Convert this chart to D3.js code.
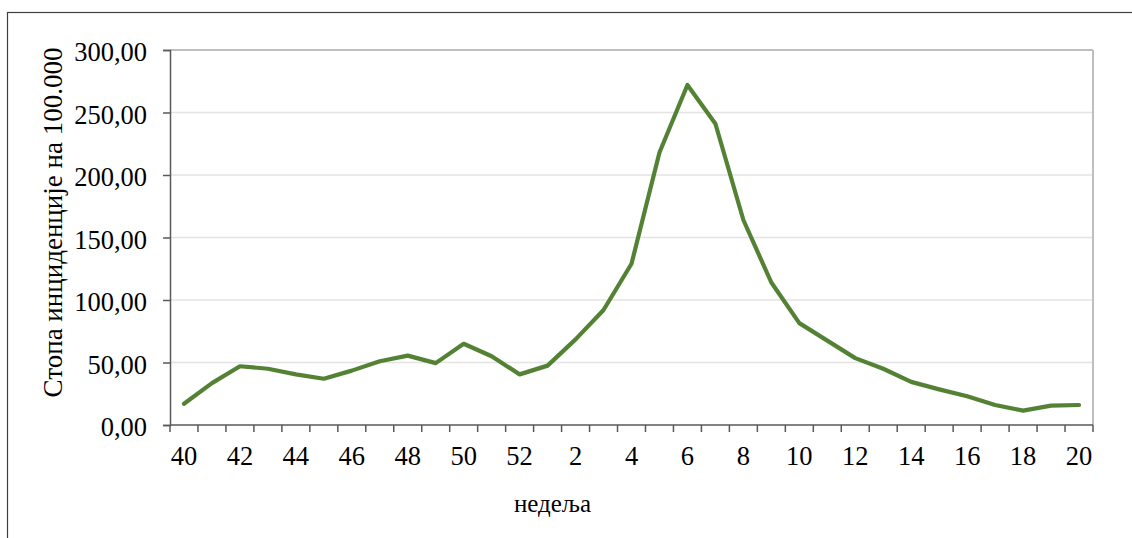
<!DOCTYPE html>
<html>
<head>
<meta charset="utf-8">
<script src="https://cdn.jsdelivr.net/npm/d3@7"></script>
<style>
  body { margin: 0; background: #fff; }
</style>
</head>
<body>
<div id="chart"></div>
<script>
const weeks = [40, 41, 42, 43, 44, 45, 46, 47, 48, 49, 50, 51, 52,
  1, 2, 3, 4, 5, 6, 7, 8, 9, 10, 11, 12, 13, 14, 15, 16, 17, 18, 19, 20]
const rates = [17, 33.5, 47, 45, 40.5, 37, 43.5, 51, 55.5, 49.5, 65, 55, 40.5,
  47.5, 68.5, 92, 129, 218, 272, 241, 164, 114, 81.5, 67.5, 53.5, 45, 34.5, 28.5, 23, 16, 11.5, 15.5, 16]
const yTicks = [0, 50, 100, 150, 200, 250, 300]

const W = 1132, H = 538
const margin = { top: 50, right: 39, bottom: 113, left: 170 }
const width = W - margin.left - margin.right
const height = H - margin.top - margin.bottom
// Times-like face
const serif = '"Liberation Serif", Tinos, "Times New Roman", serif'

const data = weeks.map((w, i) => ({ key: i, week: w, rate: rates[i] }))

const xScale = d3.scaleBand().domain(data.map(d => d.key)).range([0, width])
const yScale = d3.scaleLinear().domain([0, 300]).range([height, 0])

const fmt = v => d3.format('.2f')(v).replace('.', ',')

const root = d3.select('#chart').append('svg')
  .attr('width', W)
  .attr('height', H)
  .attr('font-family', serif)

// outer chart frame (cut by the picture edge)
root.append('rect')
  .attr('x', 7.5).attr('y', 12.5)
  .attr('width', W + 20).attr('height', H + 20)
  .attr('fill', 'none')
  .attr('stroke', '#404040')
  .attr('stroke-width', 1.2)

const svg = root.append('g')
  .attr('transform', `translate(${margin.left},${margin.top})`)

// gridlines
svg.selectAll('.grid')
  .data(yTicks.filter(t => t > 0))
  .enter().append('line')
  .attr('class', 'grid')
  .attr('x1', 0).attr('x2', width)
  .attr('y1', d => yScale(d)).attr('y2', d => yScale(d))
  .attr('stroke', d => d === 300 ? '#bfbfbf' : '#e3e3e3')
  .attr('stroke-width', d => d === 300 ? 2 : 1.5)

// right border of plot
svg.append('line')
  .attr('x1', width).attr('x2', width)
  .attr('y1', 0).attr('y2', height)
  .attr('stroke', '#bfbfbf')
  .attr('stroke-width', 2)

// y axis
const yAxis = d3.axisLeft(yScale).tickValues(yTicks).tickFormat(fmt).tickSize(7).tickPadding(16)
const gy = svg.append('g').call(yAxis)
  .attr('font-family', serif)
  .attr('font-size', 26.5)
gy.select('.domain').attr('stroke', '#595959').attr('stroke-width', 1.5)
gy.selectAll('.tick line').attr('stroke', '#595959').attr('stroke-width', 1.5)
gy.selectAll('.tick text').attr('fill', '#000').attr('dy', '0.4em')

// x axis: ticks between categories, labels every other week
const boundaries = d3.range(data.length + 1).map(i => i * xScale.step())
const gx = svg.append('g').attr('transform', `translate(0,${height})`)
gx.append('line')
  .attr('x1', 0).attr('x2', width)
  .attr('stroke', '#595959').attr('stroke-width', 1.5)
gx.selectAll('.xtick')
  .data(boundaries)
  .enter().append('line')
  .attr('class', 'xtick')
  .attr('x1', d => d).attr('x2', d => d)
  .attr('y1', 0).attr('y2', 7)
  .attr('stroke', '#595959').attr('stroke-width', 1.5)
gx.selectAll('.xlabel')
  .data(data.filter((d, i) => i % 2 === 0))
  .enter().append('text')
  .attr('class', 'xlabel')
  .attr('x', d => xScale(d.key) + xScale.bandwidth() / 2)
  .attr('y', 40)
  .attr('text-anchor', 'middle')
  .attr('font-size', 26.5)
  .text(d => d.week)

// axis titles
svg.append('text')
  .attr('transform', `translate(${-108},${height / 2 - 15}) rotate(-90)`)
  .attr('text-anchor', 'middle')
  .attr('font-size', 27)
  .text('Стопа инциденције на 100.000')

svg.append('text')
  .attr('x', width / 2 - 79)
  .attr('y', height + 87)
  .attr('text-anchor', 'middle')
  .attr('font-size', 25)
  .text('недеља')

// the line
const line = d3.line()
  .x(d => xScale(d.key) + xScale.bandwidth() / 2)
  .y(d => yScale(d.rate))

svg.append('path')
  .datum(data)
  .attr('d', line)
  .attr('fill', 'none')
  .attr('stroke', '#548235')
  .attr('stroke-width', 4.2)
  .attr('stroke-linejoin', 'round')
  .attr('stroke-linecap', 'round')
</script>
</body>
</html>
